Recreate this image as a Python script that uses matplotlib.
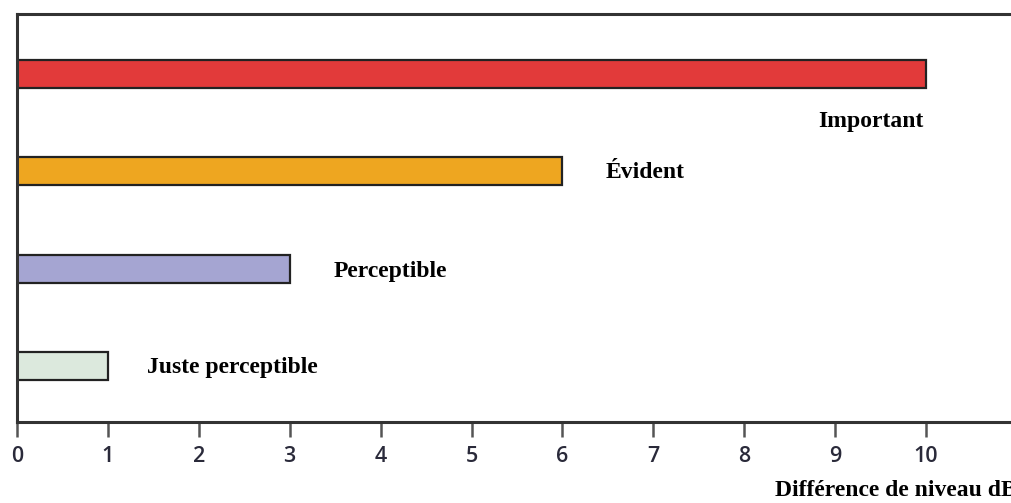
import matplotlib.pyplot as plt

# Perceived loudness difference by level difference (dB)
categories = ['Juste perceptible', 'Perceptible', 'Évident', 'Important']
values = [1, 3, 6, 10]
colors = ['#dce9dd', '#a5a5d2', '#eea620', '#e23a3a']
xticks = list(range(0, 11))

# label anchor positions (in data units) relative to bar positions
label_x = [1.43, 3.48, 6.48, 9.97]
label_dy = [-0.01, -0.03, -0.01, -0.49]
label_ha = ['left', 'left', 'left', 'right']

fig = plt.figure(figsize=(10.11, 5.03), dpi=100)
ax = fig.add_axes([17 / 1011, 81 / 503, 1000 / 1011, 408 / 503])

y = list(range(len(categories)))
ax.barh(y, values, height=0.287, color=colors, edgecolor='#222222', linewidth=1.6)

for i, name in enumerate(categories):
    ax.text(label_x[i], y[i] + label_dy[i], name, ha=label_ha[i], va='center',
            fontsize=17, fontweight='bold', family='Liberation Serif')

ax.set_xlim(0, 11)
ax.set_ylim(-0.57, 3.61)
ax.set_xticks(xticks)
ax.set_yticks([])
ax.tick_params(axis='x', direction='out', length=11, width=1.8, color='#555555',
               labelsize=15.5, labelcolor='#2a2a3a', pad=6)
for lbl in ax.get_xticklabels():
    lbl.set_family('Open Sans')
    lbl.set_fontweight('semibold')

ax.spines['right'].set_visible(False)
for side in ['left', 'top', 'bottom']:
    ax.spines[side].set_linewidth(2.2)
    ax.spines[side].set_color('#333333')

# axis title runs past the right edge of the canvas
fig.text(775 / 1011, 1 - 491 / 503, 'Différence de niveau dB', ha='left', va='center',
         fontsize=17, fontweight='bold', family='Liberation Serif')

fig.savefig('out.png', dpi=100)
